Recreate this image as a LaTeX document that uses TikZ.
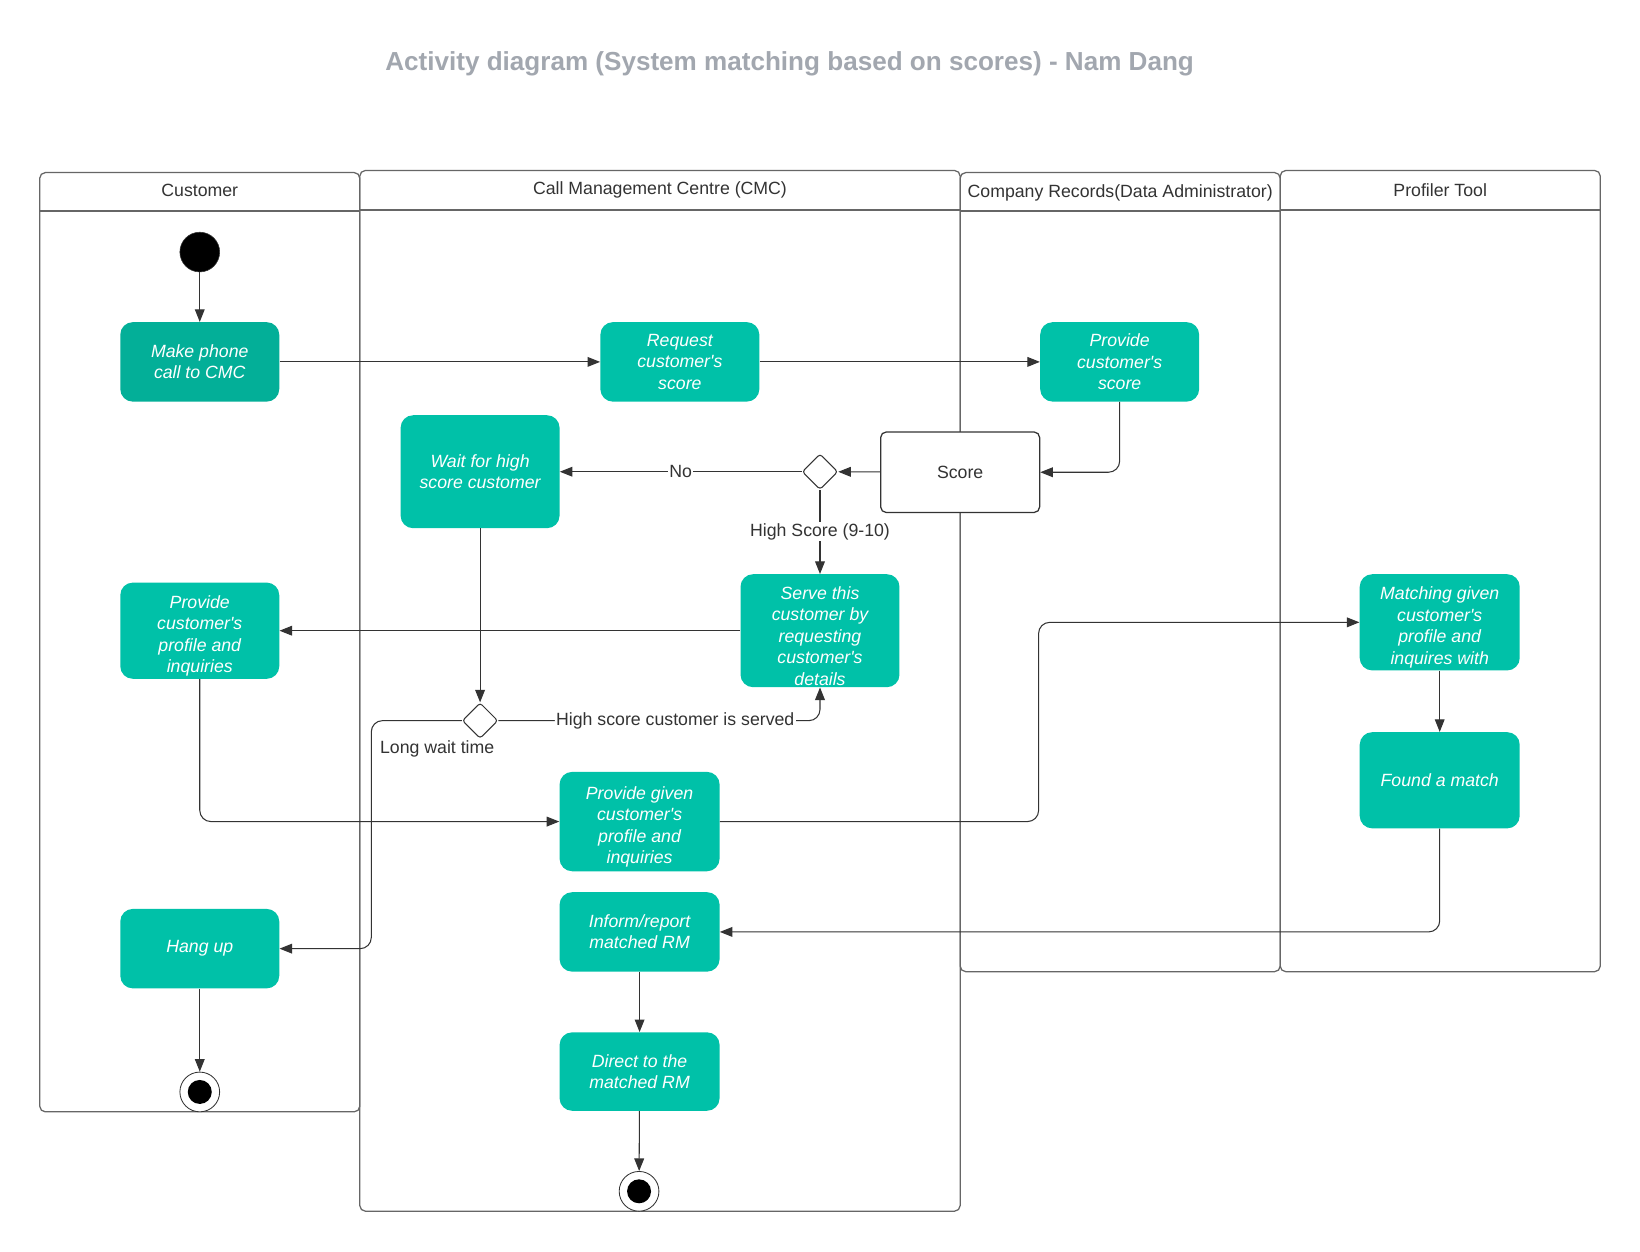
\documentclass[tikz,border=0pt]{standalone}
\usepackage{fontspec}
\setmainfont{Liberation Sans}[Ligatures=TeXOff]
\usetikzlibrary{arrows.meta,shapes.geometric}
\definecolor{tealA}{HTML}{00C1A8}
\definecolor{tealB}{HTML}{03AF98}
\definecolor{edgec}{HTML}{333333}
\definecolor{lanec}{HTML}{666666}
\definecolor{titlec}{HTML}{A2A7AF}
\newcommand{\dnline}[1]{\raisebox{0pt}[\dimexpr\height+7.5pt\relax]{#1}}
\begin{document}
\begin{tikzpicture}[x=0.75pt,y=-0.75pt,
  every node/.style={font=\fontsize{12.7}{15.4}\selectfont, text=edgec},
  act/.style={rounded corners=9pt, fill=tealA, text=white, align=center, inner sep=0pt,
    font=\fontsize{12.7}{15.4}\selectfont\itshape, minimum width=114pt, minimum height=57pt},
  lanebox/.style={draw=lanec, line width=0.9pt, rounded corners=4pt},
  lanehead/.style={draw=lanec, line width=1.3pt},
  lanetitle/.style={font=\fontsize{12.7}{15.4}\selectfont, text=edgec},
  arr/.style={draw=edgec, line width=0.75pt, -{Triangle[length=9pt,width=7pt]}},
  lbl/.style={fill=white, inner sep=1pt, text=edgec},
  dec/.style={diamond, draw=edgec, fill=white, line width=0.75pt, inner sep=0pt, minimum width=25.5pt, minimum height=25.5pt, rounded corners=2pt},
]
\useasboundingbox (0,0) rectangle (1568,1197);
\fill[white] (0,0) rectangle (1568,1197);

% title
\node[font=\fontsize{18.7}{22}\selectfont\bfseries, text=titlec] (title) at (755,61) {Activity diagram (System matching based on scores) - Nam Dang};

% swimlanes
\draw[lanebox] (38,165) rectangle (344,1063);
\draw[lanehead] (38,202) -- (344,202);
\draw[lanebox] (344,163) rectangle (918,1158);
\draw[lanehead] (344,201) -- (918,201);
\draw[lanebox] (918,165) rectangle (1224,929);
\draw[lanehead] (918,202) -- (1224,202);
\draw[lanebox] (1224,163) rectangle (1530,929);
\draw[lanehead] (1224,201) -- (1530,201);
\node[lanetitle] (l1) at (191,182) {Customer};
\node[lanetitle] (l2) at (631,182) {Call Management Centre (CMC)};
\node[lanetitle] (l3) at (1071,184) {Company Records(Data Administrator)};
\node[lanetitle] (l4) at (1377,182) {Profiler Tool};

% nodes
\node[circle, fill=black, draw=edgec, minimum size=28.5pt, inner sep=0pt] (start) at (191,241) {};
\node[act, fill=tealB] (make) at (191,346) {Make phone\\call to CMC};
\node[act] (req) at (650,346) {Request\\customer's\\score};
\node[act] (provs) at (1070.5,346) {Provide\\customer's\\score};
\node[draw=edgec, line width=0.9pt, fill=white, rounded corners=4pt, minimum width=114pt, minimum height=57.75pt, inner sep=0pt] (score) at (918,451.5) {Score};
\node[dec] (d1) at (784,451) {};
\node[act, minimum height=81pt] (wait) at (459,451) {Wait for high\\score customer};
\node[act, minimum height=81pt] (serve) at (784,603) {\dnline{Serve this}\\customer by\\requesting\\customer's\\details};
\node[act, minimum height=69pt] (provp) at (191,603) {\dnline{Provide}\\customer's\\profile and\\inquiries};
\node[dec] (d2) at (459,689) {};
\node[act, minimum width=114.75pt, minimum height=71.25pt] (given) at (611.5,785.5) {\dnline{Provide given}\\customer's\\profile and\\inquiries};
\node[act, minimum width=114.75pt, minimum height=69pt] (match) at (1376.5,595) {\dnline{Matching given}\\customer's\\profile and\\inquires with};
\node[act, minimum width=114.75pt, minimum height=69pt] (found) at (1376.5,746) {Found a match};
\node[act] (hang) at (191,907) {Hang up};
\node[act, minimum width=114.75pt] (inform) at (611.5,891) {Inform/report\\matched RM};
\node[act, minimum width=114.75pt, minimum height=56.25pt] (direct) at (611.5,1024.5) {Direct to the\\matched RM};
\node[circle, draw=edgec, fill=white, line width=0.6pt, minimum size=28.5pt, inner sep=0pt] (end1) at (191,1044) {};
\fill[black] (end1.center) circle[radius=8.6pt];
\node[circle, draw=edgec, fill=white, line width=0.6pt, minimum size=28.5pt, inner sep=0pt] (end2) at (611,1139) {};
\fill[black] (end2.center) circle[radius=8.6pt];

\coordinate (jl) at (355,800);
\coordinate (jg) at (993,690);

% connectors
\draw[arr] (start) -- (make);
\draw[arr] (make) -- (req);
\draw[arr] (req) -- (provs);
\draw[arr, rounded corners=8pt] (provs.south) |- (score.east);
\draw[arr] (score) -- (d1);
\draw[arr] (d1) -- node[lbl]{No} (wait);
\draw[arr] (d1) -- node[lbl, pos=0.495]{High Score (9-10)} (serve);
\draw[arr] (serve) -- (provp);
\draw[arr] (wait) -- (d2);
\draw[arr, rounded corners=8pt] (d2.east) -| node[lbl, pos=0.275]{High score customer is served} (serve.south);
\draw[arr, rounded corners=8pt] (d2.west) -| (jl) |- (hang.east);
\node[text=edgec] (lwt) at (418,716) {Long wait time};
\draw[arr, rounded corners=8pt] (provp.south) |- (given.west);
\draw[arr, rounded corners=8pt] (given.east) -| (jg) |- (match.west);
\draw[arr] (match) -- (found);
\draw[arr, rounded corners=8pt] (found.south) |- (inform.east);
\draw[arr] (inform) -- (direct);
\draw[arr] (direct) -- (end2);
\draw[arr] (hang) -- (end1);
\end{tikzpicture}
\end{document}
